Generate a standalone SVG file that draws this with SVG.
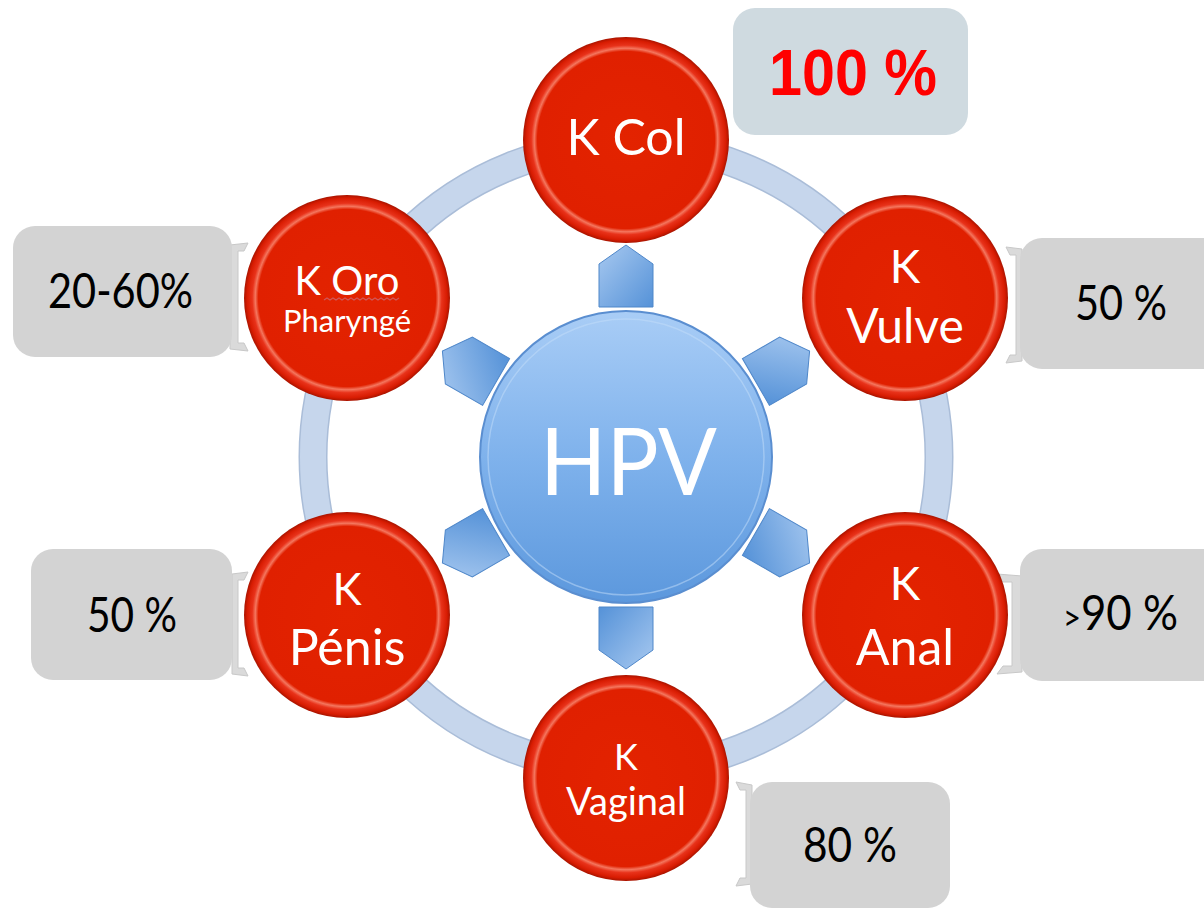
<svg xmlns="http://www.w3.org/2000/svg" width="1204" height="910" viewBox="0 0 1204 910">
<defs>
<radialGradient id="red" cx="50%" cy="50%" r="50%">
<stop offset="0" stop-color="#e32300"/>
<stop offset="0.86" stop-color="#e02000"/>
<stop offset="0.89" stop-color="#f4765e"/>
<stop offset="0.92" stop-color="#e8321a"/>
<stop offset="0.97" stop-color="#d81c02"/>
<stop offset="1" stop-color="#a81400"/>
</radialGradient>
<linearGradient id="blue" x1="0" y1="0" x2="0" y2="1">
<stop offset="0" stop-color="#a9cdf6"/>
<stop offset="0.5" stop-color="#7fb2ec"/>
<stop offset="1" stop-color="#5c98dd"/>
</linearGradient>
<linearGradient id="arrowg" x1="0" y1="0" x2="1" y2="1">
<stop offset="0" stop-color="#a8c9f0"/>
<stop offset="1" stop-color="#5592d8"/>
</linearGradient>
<style>
.node{fill:url(#red);}
.lbl{font-family:Lato,"Open Sans",sans-serif;fill:#ffffff;text-anchor:middle;}
.box{fill:#d3d3d3;}
.val{font-family:Lato,"Open Sans",sans-serif;fill:#000000;font-size:48px;}
.tail{fill:#dadada;stroke:#c8c8c8;stroke-width:1;}
.arr{fill:url(#arrowg);stroke:#4f87c9;stroke-width:1;}
</style>
</defs>
<rect width="1204" height="910" fill="#ffffff"/>

<g id="connectors">
<circle cx="626" cy="457" r="313" fill="none" stroke="#aabdd8" stroke-width="29"/>
<circle cx="626" cy="457" r="313" fill="none" stroke="#c6d6ec" stroke-width="26"/>
<path class="tail" d="M230,245 L248,243 L244,251 L238,251 L238,343 L244,343 L248,351 L230,349 Z"/>
<path class="tail" d="M1022,249 L1006,247 L1010,255 L1016,255 L1016,355 L1010,355 L1006,363 L1022,361 Z"/>
<path class="tail" d="M1022,576 L997,574 L1003,582 L1012,582 L1012,666 L1003,666 L997,674 L1022,672 Z"/>
<path class="tail" d="M232,574 L248,572 L244,580 L238,580 L238,668 L244,668 L248,676 L232,674 Z"/>
<path class="tail" d="M752,785 L736,782 L740,790 L746,790 L746,878 L740,878 L736,886 L752,884 Z"/>
</g>

<g id="hpv">
<g id="arrows">
<polygon class="arr" points="599,307 599,264 626,245 653,264 653,307"/>
<polygon class="arr" points="599,307 599,264 626,245 653,264 653,307" transform="rotate(60 626 457)"/>
<polygon class="arr" points="599,307 599,264 626,245 653,264 653,307" transform="rotate(120 626 457)"/>
<polygon class="arr" points="599,307 599,264 626,245 653,264 653,307" transform="rotate(180 626 457)"/>
<polygon class="arr" points="599,307 599,264 626,245 653,264 653,307" transform="rotate(240 626 457)"/>
<polygon class="arr" points="599,307 599,264 626,245 653,264 653,307" transform="rotate(300 626 457)"/>
</g>
<circle cx="626" cy="457" r="146" fill="url(#blue)" stroke="#5a8ed0" stroke-width="2"/>
<circle cx="626" cy="457" r="138" fill="none" stroke="#c4def9" stroke-width="1.5" opacity="0.5"/>
<text x="540" y="495" font-family="Lato,'Open Sans',sans-serif" font-size="94" fill="#ffffff" textLength="177" lengthAdjust="spacingAndGlyphs">HPV</text>
</g>

<g id="kcol">
<circle class="node" cx="626" cy="140" r="103"/>
<text class="lbl" x="626" y="155" font-size="50">K Col</text>
</g>
<g id="kvulve">
<circle class="node" cx="905" cy="298" r="103"/>
<text class="lbl" x="905" y="283" font-size="46">K</text>
<text class="lbl" x="905" y="343" font-size="48">Vulve</text>
</g>
<g id="kanal">
<circle class="node" cx="905" cy="615" r="103"/>
<text class="lbl" x="905" y="600" font-size="46">K</text>
<text class="lbl" x="905" y="665" font-size="50">Anal</text>
</g>
<g id="kvaginal">
<circle class="node" cx="626" cy="778" r="103"/>
<text class="lbl" x="626" y="770" font-size="36">K</text>
<text class="lbl" x="626" y="815" font-size="38">Vaginal</text>
</g>
<g id="kpenis">
<circle class="node" cx="347" cy="615" r="103"/>
<text class="lbl" x="347" y="605" font-size="44">K</text>
<text class="lbl" x="347" y="665" font-size="50">Pénis</text>
</g>
<g id="koro">
<circle class="node" cx="347" cy="298" r="103"/>
<text class="lbl" x="347" y="295" font-size="40">K Oro</text>
<path d="M324,300 l3,-2 l3,2 l3,-2 l3,2 l3,-2 l3,2 l3,-2 l3,2 l3,-2 l3,2 l3,-2 l3,2 l3,-2 l3,2 l3,-2 l3,2 l3,-2 l3,2 l3,-2 l3,2 l3,-2 l3,2 l3,-2 l3,2 l3,-2" fill="none" stroke="#d05858" stroke-width="1.2"/>
<text class="lbl" x="347" y="332" font-size="31">Pharyngé</text>
</g>

<g id="c100">
<rect x="733" y="8" width="235" height="127" rx="22" fill="#cfdae0"/>
<text x="769" y="95" font-family="'Liberation Sans',Arial,sans-serif" font-weight="bold" font-size="64" fill="#ff0000" textLength="168" lengthAdjust="spacingAndGlyphs">100 %</text>
</g>
<g id="c2060">
<rect class="box" x="13" y="226" width="219" height="131" rx="22"/>
<text class="val" x="48" y="308" font-size="50" textLength="145" lengthAdjust="spacingAndGlyphs">20-60%</text>
</g>
<g id="c50v">
<rect class="box" x="1020" y="238" width="210" height="131" rx="22"/>
<text class="val" x="1075" y="320" textLength="92" lengthAdjust="spacingAndGlyphs">50 %</text>
</g>
<g id="c90">
<rect class="box" x="1020" y="549" width="210" height="132" rx="22"/>
<text class="val" x="1063" y="630" textLength="115" lengthAdjust="spacingAndGlyphs"><tspan font-size="34">&gt;</tspan>90 %</text>
</g>
<g id="c50p">
<rect class="box" x="31" y="549" width="201" height="131" rx="22"/>
<text class="val" x="87" y="632" textLength="90" lengthAdjust="spacingAndGlyphs">50 %</text>
</g>
<g id="c80">
<rect class="box" x="750" y="782" width="200" height="126" rx="22"/>
<text class="val" x="803" y="862" textLength="94" lengthAdjust="spacingAndGlyphs">80 %</text>
</g>
</svg>
